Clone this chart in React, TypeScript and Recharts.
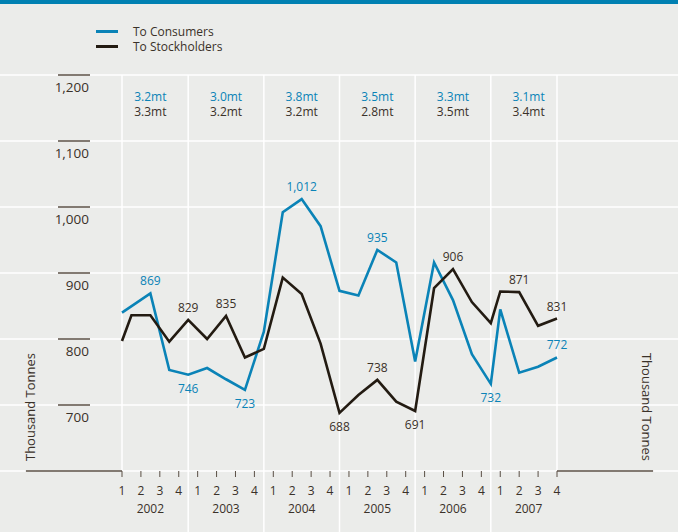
import { CartesianGrid, Label, Legend, Line, LineChart, ReferenceLine, XAxis, YAxis } from "recharts"

// quarters 2002 Q1 .. 2007 Q4 on a numeric axis (0 = 2002 Q1)
const quarterTicks = [0, 1, 2, 3, 4, 5, 6, 7, 8, 9, 10, 11, 12, 13, 14, 15, 16, 17, 18, 19, 20, 21, 22, 23]
const quarterLabels = ["1", "2", "3", "4"]
const years = ["2002", "2003", "2004", "2005", "2006", "2007"]
const yearCenters = [1.5, 5.5, 9.5, 13.5, 17.5, 21.5]
const yearBreaks = [3.5, 7.5, 11.5, 15.5, 19.5]
const consumerTotals = ["3.2mt", "3.0mt", "3.8mt", "3.5mt", "3.3mt", "3.1mt"]
const stockholderTotals = ["3.3mt", "3.2mt", "3.2mt", "2.8mt", "3.5mt", "3.4mt"]
const valueTicks = [600, 700, 800, 900, 1000, 1100, 1200]

// where the plotted points sit on the quarter axis
const xPositions = [0, 0.5, 1.5, 2.5, 3.5, 4.5, 5.5, 6.5, 7.5, 8.5, 9.5, 10.5, 11.5, 12.5, 13.5, 14.5, 15.5, 16.5, 17.5, 18.5, 19.5, 20, 21, 22, 23]
const toConsumers = [840, null, 869, 753, 746, 756, 739, 723, 811, 992, 1012, 971, 873, 866, 935, 916, 766, 916, 859, 777, 732, 845, 749, 758, 772]
const toStockholders = [797, 836, 836, 796, 829, 800, 835, 772, 785, 893, 868, 793, 688, 715, 738, 705, 691, 877, 906, 856, 824, 872, 871, 820, 831]

// index -> label side
const consumerLabels: Record<number, "up" | "down"> = { 2: "up", 4: "down", 7: "down", 10: "up", 14: "up", 20: "down", 24: "up" }
const stockholderLabels: Record<number, "up" | "down"> = { 4: "up", 6: "up", 12: "down", 14: "up", 16: "down", 18: "up", 22: "up", 24: "up" }

const BLUE = "#0a83b7"
const DARK = "#231b12"
const TEXT = "#3a3129"
const RULE = "#5a4f45"
const BG = "#ebecea"

const data = xPositions.map((x, i) => ({
    x,
    consumers: toConsumers[i],
    stockholders: toStockholders[i],
}))

const fmt = (v: number) => v.toLocaleString("en-US")

const pointLabel = (labels: Record<number, "up" | "down">, color: string) => (props: any) => {
    const { x, y, index, value } = props
    const side = labels[index]
    if (!side || value == null) return null
    return (
        <text x={x} y={side === "up" ? y - 8 : y + 18} textAnchor="middle" fill={color} fontSize={12}>
            {fmt(value)}
        </text>
    )
}

const LeftTick = ({ x, y, payload }: any) => {
    if (payload.value === 600) return null
    return (
        <g>
            <line x1={x - 64} x2={x - 32} y1={y} y2={y} stroke={RULE} strokeWidth={1.5} />
            <text x={x - 33} y={y + 17} textAnchor="end" fill={TEXT} fontSize={13.5}>
                {fmt(payload.value)}
            </text>
        </g>
    )
}

const RightTick = ({ x, y, payload }: any) => {
    if (payload.value === 600) return null
    return (
        <g>
            <line x1={x + 32} x2={x + 64} y1={y} y2={y} stroke={RULE} strokeWidth={1.5} />
            <text x={x + 33} y={y + 17} textAnchor="start" fill={TEXT} fontSize={13.5}>
                {fmt(payload.value)}
            </text>
        </g>
    )
}

const TotalsTick = ({ x, y, payload }: any) => {
    const i = yearCenters.indexOf(payload.value)
    return (
        <g>
            <text x={x} y={y + 26} textAnchor="middle" fill={BLUE} fontSize={12}>
                {consumerTotals[i]}
            </text>
            <text x={x} y={y + 41} textAnchor="middle" fill={TEXT} fontSize={12}>
                {stockholderTotals[i]}
            </text>
        </g>
    )
}

const LegendContent = ({ payload }: any) => (
    <div>
        {(payload || []).map((p: any) => (
            <div
                key={p.value}
                style={{ display: "flex", alignItems: "center", height: 15, lineHeight: "15px", fontSize: 12, color: TEXT }}
            >
                <span style={{ display: "inline-block", width: 22, height: 3, background: p.color, marginRight: 15 }} />
                <span>{p.value}</span>
            </div>
        ))}
    </div>
)

const axisTitle = (dx: number, angle: number) => ({ viewBox }: any) => {
    const cx = viewBox.x + dx
    const cy = viewBox.y + viewBox.height - 64
    return (
        <text
            x={cx}
            y={cy}
            transform={`rotate(${angle} ${cx} ${cy})`}
            textAnchor="middle"
            dominantBaseline="central"
            fill={TEXT}
            fontSize={13}
        >
            Thousand Tonnes
        </text>
    )
}

export default function App() {
    return (
        <div
            style={{
                position: "absolute",
                left: 0,
                top: 0,
                width: 678,
                height: 532,
                background: BG,
                fontFamily: "'Open Sans', sans-serif",
                overflow: "hidden",
            }}
        >
            <div style={{ position: "absolute", left: 0, top: 0, width: 678, height: 4, background: "#0080b2" }} />
            <LineChart width={678} height={532} data={data} margin={{ top: 74, right: 0, bottom: 21, left: 0 }}>
                <CartesianGrid xAxisId="g" yAxisId="l" stroke="#ffffff" strokeWidth={1.5} />
                <XAxis
                    xAxisId="q"
                    dataKey="x"
                    type="number"
                    domain={[0, 23]}
                    ticks={quarterTicks}
                    tickFormatter={(v: number) => quarterLabels[v % 4]}
                    axisLine={false}
                    tickLine={{ stroke: RULE }}
                    tickSize={6}
                    tickMargin={9}
                    height={20}
                    tick={{ fill: TEXT, fontSize: 12 }}
                    interval={0}
                />
                <XAxis
                    xAxisId="yr"
                    dataKey="x"
                    type="number"
                    domain={[0, 23]}
                    ticks={yearCenters}
                    tickFormatter={(v: number) => years[yearCenters.indexOf(v)]}
                    axisLine={false}
                    tickLine={false}
                    tickSize={0}
                    tickMargin={13}
                    height={20}
                    tick={{ fill: TEXT, fontSize: 12 }}
                    interval={0}
                />
                <XAxis
                    xAxisId="t"
                    orientation="top"
                    dataKey="x"
                    type="number"
                    domain={[0, 23]}
                    ticks={yearCenters}
                    axisLine={false}
                    tickLine={false}
                    tickSize={0}
                    tickMargin={0}
                    height={1}
                    tick={<TotalsTick />}
                    interval={0}
                />
                <XAxis xAxisId="g" dataKey="x" type="number" domain={[0, 23]} ticks={yearBreaks} height={0} hide />
                <YAxis
                    yAxisId="l"
                    orientation="left"
                    width={122}
                    domain={[600, 1200]}
                    ticks={valueTicks}
                    axisLine={false}
                    tickLine={false}
                    tickSize={0}
                    tickMargin={0}
                    tick={<LeftTick />}
                    interval={0}
                >
                    <Label content={axisTitle(30, -90)} />
                </YAxis>
                <YAxis
                    yAxisId="r"
                    orientation="right"
                    width={121}
                    domain={[600, 1200]}
                    ticks={valueTicks}
                    axisLine={false}
                    tickLine={false}
                    tickSize={0}
                    tickMargin={0}
                    tick={<RightTick />}
                    interval={0}
                >
                    <Label content={axisTitle(90, 90)} />
                </YAxis>

                {/* white rules carried past the plot area */}
                {valueTicks.map((v) => (
                    <ReferenceLine
                        key={"hl" + v}
                        xAxisId="q"
                        yAxisId="l"
                        segment={[{ x: -10, y: v }, { x: 0, y: v }]}
                        stroke="#ffffff"
                        strokeWidth={1.5}
                        ifOverflow="visible"
                    />
                ))}
                {valueTicks.map((v) => (
                    <ReferenceLine
                        key={"hr" + v}
                        xAxisId="q"
                        yAxisId="l"
                        segment={[{ x: 23, y: v }, { x: 35, y: v }]}
                        stroke="#ffffff"
                        strokeWidth={1.5}
                        ifOverflow="visible"
                    />
                ))}
                {yearBreaks.map((b) => (
                    <ReferenceLine
                        key={"v" + b}
                        xAxisId="q"
                        yAxisId="l"
                        segment={[{ x: b, y: 600 }, { x: b, y: 500 }]}
                        stroke="#ffffff"
                        strokeWidth={1.5}
                        ifOverflow="visible"
                    />
                ))}
                <ReferenceLine
                    xAxisId="q"
                    yAxisId="l"
                    segment={[{ x: -5.08, y: 600 }, { x: 0, y: 600 }]}
                    stroke={RULE}
                    strokeWidth={1.5}
                    ifOverflow="visible"
                />
                <ReferenceLine
                    xAxisId="q"
                    yAxisId="l"
                    segment={[{ x: 23, y: 600 }, { x: 28.08, y: 600 }]}
                    stroke={RULE}
                    strokeWidth={1.5}
                    ifOverflow="visible"
                />

                <Legend
                    layout="vertical"
                    align="center"
                    verticalAlign="middle"
                    content={<LegendContent />}
                    wrapperStyle={{ left: 96, top: 24, width: "auto", height: "auto" }}
                />
                <Line
                    xAxisId="q"
                    yAxisId="l"
                    name="To Consumers"
                    dataKey="consumers"
                    stroke={BLUE}
                    strokeWidth={2.6}
                    dot={false}
                    connectNulls
                    isAnimationActive={false}
                    label={pointLabel(consumerLabels, BLUE)}
                />
                <Line
                    xAxisId="q"
                    yAxisId="l"
                    name="To Stockholders"
                    dataKey="stockholders"
                    stroke={DARK}
                    strokeWidth={2.6}
                    dot={false}
                    isAnimationActive={false}
                    label={pointLabel(stockholderLabels, TEXT)}
                />
            </LineChart>
        </div>
    )
}
